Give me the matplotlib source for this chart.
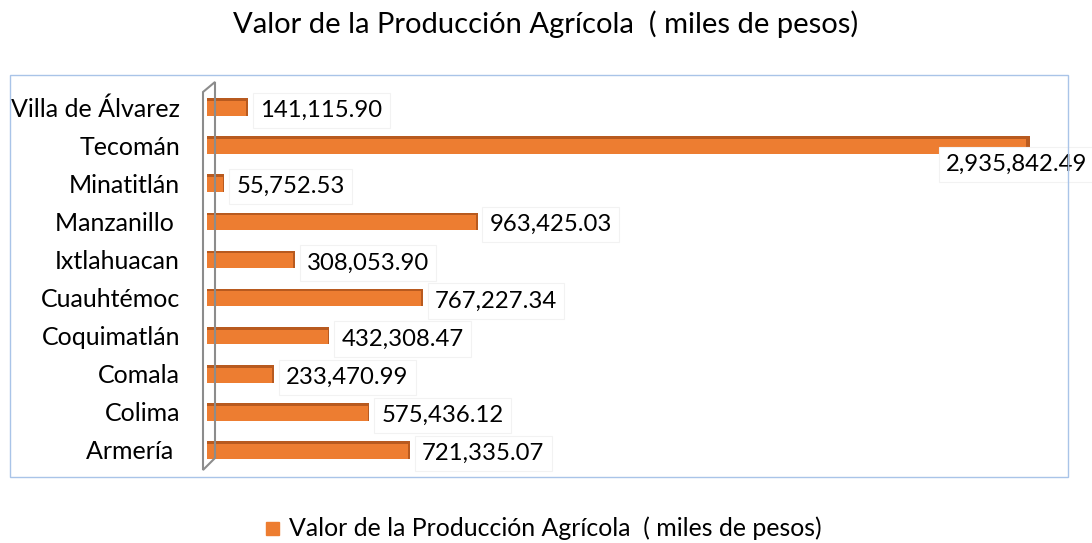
import matplotlib
matplotlib.use("Agg")
import matplotlib.pyplot as plt
from matplotlib.patches import Rectangle, Polygon

categories = ["Armería ", "Colima", "Comala", "Coquimatlán", "Cuauhtémoc",
              "Ixtlahuacan", "Manzanillo ", "Minatitlán", "Tecomán", "Villa de Álvarez"]
values = [721335.07, 575436.12, 233470.99, 432308.47, 767227.34,
          308053.90, 963425.03, 55752.53, 2935842.49, 141115.90]
series_name = "Valor de la Producción Agrícola  ( miles de pesos)"
title = "Valor de la Producción Agrícola  ( miles de pesos)"

W, H = 1092, 543
fig = plt.figure(figsize=(W / 100, H / 100), dpi=100)
plt.rcParams['font.family'] = ['Lato', 'DejaVu Sans']

def fx(px):
    return px / W

def fy(py):
    return 1 - py / H

FS_CAT = 18
FS_LAB = 17.2
FS_LEG = 17.9
FS_TITLE = 21

# plot-area border
fig.patches.append(Rectangle((fx(10), fy(477)), fx(1068) - fx(10), fy(75) - fy(477),
                             transform=fig.transFigure, fill=False,
                             edgecolor="#A9C4E8", linewidth=1.0, zorder=0))
# 3D wall
fig.patches.append(Polygon([(fx(203), fy(92)), (fx(215), fy(82)), (fx(215), fy(458)),
                            (fx(203), fy(470))], closed=True, transform=fig.transFigure,
                           fill=False, edgecolor="#8C8C8C", linewidth=1.5, zorder=1))

ax = fig.add_axes([fx(207), fy(469), fx(1068) - fx(207), fy(88) - fy(469)])
ax.set_xlim(0, 3086300)
ax.set_ylim(-0.5, len(categories) - 0.5)
ax.patch.set_alpha(0)
for s in ax.spines.values():
    s.set_visible(False)
ax.set_xticks([])
ax.set_yticks(range(len(categories)))
ax.set_yticklabels(categories, fontsize=FS_CAT)
ax.tick_params(axis='y', length=0, pad=19.5)

orange = "#ED7D31"
dark = "#B85A1F"
bh = 0.46
ypos = list(range(len(categories)))
ax.barh(ypos, values, height=bh, color=orange, zorder=3)
# darker top strip for 3D look
ax.barh([y + bh / 2 - 0.035 for y in ypos], values, height=0.07, color=dark, zorder=4)
# end face
ax.barh(ypos, [v * 0.003 + 5000 for v in values], left=values, height=bh,
        color=dark, zorder=4)

box = dict(boxstyle='square,pad=0.3', fc='white', ec='#F2F2F2', lw=0.8)
for y, v in zip(ypos, values):
    txt = f"{v:,.2f}"
    if v > 2_000_000:
        ax.annotate(txt, xy=(v, y), xytext=(44, -14), textcoords='offset points',
                    ha='right', va='center', fontsize=FS_LAB, zorder=6, bbox=box)
    else:
        ax.annotate(txt, xy=(v, y), xytext=(10, -2.5), textcoords='offset points',
                    ha='left', va='center', fontsize=FS_LAB, zorder=6, bbox=box)

fig.text(0.5, fy(24), title, ha='center', va='center', fontsize=FS_TITLE)

# legend
fig.patches.append(Rectangle((fx(266), fy(535)), fx(13), 13 / H,
                             transform=fig.transFigure, color=orange))
fig.text(fx(289), fy(528), series_name, ha='left', va='center', fontsize=FS_LEG)

fig.savefig("out.png", dpi=100)
